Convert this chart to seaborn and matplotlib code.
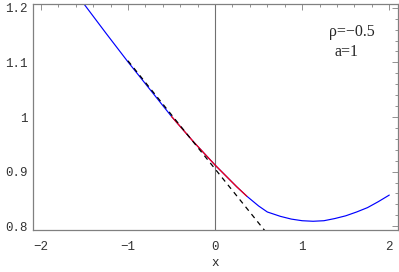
import matplotlib
matplotlib.use("Agg")
import matplotlib.pyplot as plt
import seaborn as sns
import pandas as pd
from matplotlib.ticker import MultipleLocator

# data
curve_x = [-1.5, -1.25, -1.0, -0.75, -0.5, -0.25, 0.0, 0.125, 0.25, 0.364, 0.5, 0.6, 0.75,
           0.875, 1.0, 1.125, 1.25, 1.375, 1.5, 1.625, 1.75, 1.875, 2.0]
curve_y = [1.206, 1.153, 1.101, 1.051, 1.001, 0.955, 0.912, 0.892, 0.872, 0.855, 0.837, 0.826, 0.818,
           0.813, 0.810, 0.809, 0.810, 0.814, 0.819, 0.826, 0.834, 0.845, 0.857]
red_x = [-0.5, -0.25, 0.0, 0.125, 0.25, 0.364]
red_y = [1.001, 0.955, 0.912, 0.892, 0.872, 0.855]
dash_x = [-1.0, 0.6]
dash_y = [1.103, 0.786]
x_ticks = [-2, -1, 0, 1, 2]
y_ticks = [0.8, 0.9, 1.0, 1.1, 1.2]
y_labels = ["0.8", "0.9", "1", "1.1", "1.2"]

sns.set_style("white")
fig = plt.figure(figsize=(3.99, 2.72), dpi=100)
ax = fig.add_axes([33/399, 1-230/272, 365/399, 226/272])

blue = pd.DataFrame({"x": curve_x, "y": curve_y})
red = pd.DataFrame({"x": red_x, "y": red_y})
dash = pd.DataFrame({"x": dash_x, "y": dash_y})

ax.axvline(0, color="#707070", lw=0.8, zorder=1)
sns.lineplot(data=blue, x="x", y="y", ax=ax, color=(0, 0, 1), lw=0.85, sort=False, zorder=2)
sns.lineplot(data=red, x="x", y="y", ax=ax, color=(1, 0, 0), lw=0.85, sort=False, zorder=3)
sns.lineplot(data=dash, x="x", y="y", ax=ax, color="black", lw=0.9, sort=False, zorder=4)
ax.lines[-1].set_dashes([4, 3.5])

ax.set_xlim(-2.09, 2.1)
ax.set_ylim(0.793, 1.207)
ax.set_xticks(x_ticks)
ax.set_xticklabels([("−" + str(-t)) if t < 0 else str(t) for t in x_ticks])
ax.set_yticks(y_ticks)
ax.set_yticklabels(y_labels)
ax.xaxis.set_minor_locator(MultipleLocator(0.2))
ax.yaxis.set_minor_locator(MultipleLocator(0.02))

mono = "Liberation Mono"
for lab in ax.get_xticklabels() + ax.get_yticklabels():
    lab.set_family(mono)
    lab.set_fontsize(9)
    lab.set_color("#333333")

ax.tick_params(which="both", direction="in", top=True, right=True, color="#808080", width=0.6)
ax.tick_params(which="major", length=4, pad=8)
ax.tick_params(which="minor", length=2)
ax.tick_params(axis="y", which="major", pad=4)
for s in ax.spines.values():
    s.set_color("#808080")
    s.set_linewidth(0.9)

ax.set_xlabel("x", family=mono, fontsize=9, labelpad=3)
ax.set_ylabel("")

ax.text(0.874, 0.876, "ρ=−0.5", transform=ax.transAxes, family="Liberation Serif", fontsize=11.5, ha="center", va="center")
ax.text(0.858, 0.786, "a=1", transform=ax.transAxes, family="Liberation Serif", fontsize=11.5, ha="center", va="center")

fig.savefig("out.png", dpi=100)
